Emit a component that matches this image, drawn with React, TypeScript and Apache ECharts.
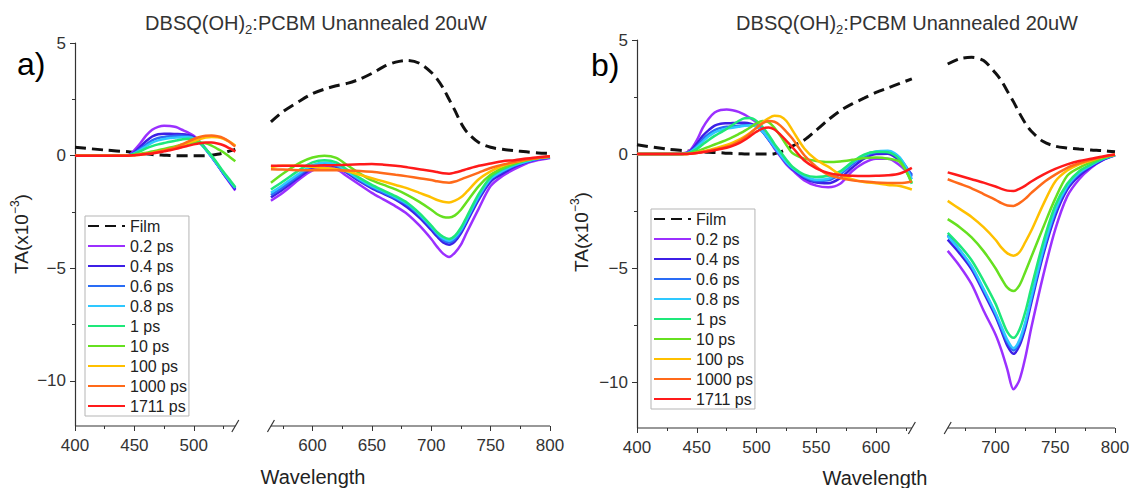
import React, { useEffect, useRef } from "react";
import * as echarts from "echarts";

// ---------- series names / colours ----------
const seriesNames = ["Film", "0.2 ps", "0.4 ps", "0.6 ps", "0.8 ps", "1 ps", "10 ps", "100 ps", "1000 ps", "1711 ps"];
const seriesColors = ["#111111", "#9b30ff", "#3d1fe6", "#2a6cf5", "#2ec8ff", "#1ee87a", "#66e020", "#ffc000", "#ff6a1a", "#ff1a1a"];

// ---------- axis ticks ----------
const aMajorTicks = [400, 450, 500, 600, 650, 700, 750, 800];
const bMajorTicks = [400, 450, 500, 550, 600, 700, 750, 800];
const minorXTicks = [425, 475, 525, 575, 625, 675, 725, 775];
const yMajorTicks = [-10, -5, 0, 5];
const yMinorTicks = [-7.5, -2.5, 2.5];

// ---------- panel a) wavelength grids ----------
const aLeftWl = [400, 425, 445, 450, 455, 460, 465, 470, 475, 480, 485, 490, 495, 500, 505, 510, 515, 520, 525, 530, 535];
const aRightWl = [565, 575, 590, 600, 610, 620, 630, 640, 650, 660, 670, 680, 690, 700, 705, 710, 715, 720, 725, 730, 740, 750, 760, 770, 780, 790, 800];

const aLeftFilm = [0.37, 0.25, 0.17, 0.14, 0.11, 0.08, 0.05, 0.03, 0.02, 0.01, 0, 0, 0, 0, 0, 0, 0.02, 0.06, 0.12, 0.2, 0.28];
const aLeft02 = [0, 0, 0.02, 0.25, 0.55, 0.9, 1.15, 1.28, 1.33, 1.32, 1.27, 1.15, 1.03, 0.88, 0.62, 0.3, -0.05, -0.42, -0.8, -1.18, -1.55];
const aLeft04 = [0, 0, 0.02, 0.15, 0.4, 0.65, 0.85, 0.95, 0.97, 0.97, 0.96, 0.95, 0.92, 0.82, 0.6, 0.3, -0.05, -0.42, -0.8, -1.15, -1.5];
const aLeft06 = [0, 0, 0.01, 0.12, 0.3, 0.5, 0.68, 0.78, 0.83, 0.86, 0.88, 0.88, 0.86, 0.78, 0.58, 0.28, -0.05, -0.4, -0.78, -1.12, -1.45];
const aLeft08 = [0, 0, 0.01, 0.1, 0.25, 0.42, 0.58, 0.68, 0.74, 0.78, 0.8, 0.82, 0.82, 0.76, 0.57, 0.28, -0.05, -0.4, -0.76, -1.1, -1.42];
const aLeft1 = [0, 0, 0.01, 0.08, 0.2, 0.32, 0.42, 0.5, 0.56, 0.62, 0.67, 0.72, 0.75, 0.72, 0.58, 0.3, 0, -0.35, -0.72, -1.05, -1.4];
const aLeft10 = [0, 0, 0, 0.04, 0.08, 0.13, 0.18, 0.24, 0.3, 0.36, 0.42, 0.48, 0.53, 0.57, 0.58, 0.55, 0.45, 0.3, 0.15, -0.05, -0.25];
const aLeft100 = [0, 0, 0, 0.02, 0.05, 0.08, 0.12, 0.17, 0.23, 0.3, 0.38, 0.47, 0.56, 0.65, 0.73, 0.8, 0.83, 0.82, 0.75, 0.62, 0.45];
const aLeft1000 = [0, 0, 0, 0.02, 0.05, 0.08, 0.12, 0.17, 0.23, 0.3, 0.38, 0.5, 0.62, 0.74, 0.83, 0.88, 0.89, 0.86, 0.78, 0.62, 0.4];
const aLeft1711 = [0, 0, 0, 0.02, 0.04, 0.07, 0.1, 0.14, 0.19, 0.24, 0.3, 0.37, 0.44, 0.5, 0.55, 0.58, 0.58, 0.54, 0.46, 0.33, 0.18];

const aRightFilm = [1.5, 1.95, 2.45, 2.75, 2.95, 3.1, 3.22, 3.4, 3.65, 3.95, 4.15, 4.23, 4.1, 3.7, 3.4, 3.0, 2.5, 2.0, 1.45, 1.05, 0.58, 0.37, 0.28, 0.22, 0.17, 0.12, 0.1];
const aRight02 = [-2.0, -1.65, -1.0, -0.65, -0.5, -0.6, -0.95, -1.3, -1.65, -1.95, -2.25, -2.6, -3.1, -3.7, -4.05, -4.35, -4.5, -4.3, -3.95, -3.4, -2.35, -1.35, -0.9, -0.6, -0.35, -0.2, -0.1];
const aRight04 = [-1.85, -1.5, -0.9, -0.55, -0.4, -0.5, -0.8, -1.15, -1.45, -1.7, -1.95, -2.3, -2.75, -3.3, -3.6, -3.85, -3.95, -3.8, -3.45, -2.95, -1.95, -1.15, -0.8, -0.5, -0.3, -0.15, -0.08];
const aRight06 = [-1.75, -1.4, -0.82, -0.48, -0.35, -0.45, -0.75, -1.1, -1.4, -1.65, -1.9, -2.2, -2.65, -3.2, -3.5, -3.75, -3.85, -3.7, -3.35, -2.85, -1.85, -1.05, -0.7, -0.45, -0.28, -0.14, -0.07];
const aRight08 = [-1.65, -1.3, -0.75, -0.42, -0.3, -0.4, -0.72, -1.05, -1.35, -1.6, -1.85, -2.15, -2.6, -3.15, -3.45, -3.68, -3.78, -3.62, -3.28, -2.8, -1.8, -1.02, -0.68, -0.42, -0.26, -0.13, -0.06];
const aRight1 = [-1.5, -1.15, -0.6, -0.3, -0.2, -0.3, -0.65, -1.0, -1.3, -1.55, -1.8, -2.1, -2.55, -3.1, -3.4, -3.6, -3.7, -3.55, -3.2, -2.7, -1.7, -0.95, -0.6, -0.38, -0.22, -0.1, -0.05];
const aRight10 = [-1.2, -0.8, -0.3, -0.08, 0, -0.1, -0.45, -0.8, -1.1, -1.3, -1.5, -1.75, -2.05, -2.4, -2.6, -2.72, -2.75, -2.65, -2.4, -2.05, -1.35, -0.85, -0.55, -0.35, -0.2, -0.1, -0.05];
const aRight100 = [-0.5, -0.45, -0.45, -0.5, -0.55, -0.6, -0.7, -0.85, -1.0, -1.15, -1.3, -1.45, -1.65, -1.85, -1.97, -2.05, -2.08, -2.0, -1.85, -1.6, -1.05, -0.7, -0.45, -0.3, -0.18, -0.1, -0.05];
const aRight1000 = [-0.6, -0.62, -0.65, -0.65, -0.65, -0.65, -0.66, -0.68, -0.72, -0.78, -0.85, -0.92, -1.0, -1.08, -1.14, -1.18, -1.2, -1.15, -1.05, -0.95, -0.75, -0.55, -0.4, -0.28, -0.17, -0.1, -0.05];
const aRight1711 = [-0.45, -0.45, -0.45, -0.45, -0.43, -0.42, -0.4, -0.38, -0.37, -0.4, -0.45, -0.52, -0.6, -0.68, -0.73, -0.78, -0.8, -0.75, -0.68, -0.6, -0.45, -0.35, -0.25, -0.2, -0.13, -0.07, -0.03];

// ---------- panel b) wavelength grids ----------
const bLeftWl = [400, 425, 440, 445, 450, 455, 460, 465, 470, 475, 480, 485, 490, 495, 500, 505, 510, 515, 520, 525, 530, 540, 550, 560, 570, 580, 590, 600, 610, 620, 630];
const bRightWl = [660, 670, 680, 690, 700, 705, 710, 715, 720, 725, 730, 740, 750, 760, 770, 780, 790, 800];

const bLeftFilm = [0.41, 0.22, 0.15, 0.13, 0.12, 0.1, 0.08, 0.07, 0.06, 0.04, 0.03, 0.02, 0.01, 0, 0, 0, 0, 0.02, 0.1, 0.2, 0.35, 0.62, 1.05, 1.5, 1.9, 2.2, 2.45, 2.7, 2.9, 3.1, 3.3];
const bLeft02 = [0, 0, 0.05, 0.2, 0.6, 1.15, 1.55, 1.82, 1.93, 1.95, 1.92, 1.85, 1.73, 1.57, 1.38, 1.05, 0.65, 0.25, -0.1, -0.45, -0.7, -1.15, -1.38, -1.45, -1.3, -0.75, -0.38, -0.2, -0.2, -0.5, -1.0];
const bLeft04 = [0, 0, 0.03, 0.15, 0.45, 0.8, 1.05, 1.25, 1.33, 1.35, 1.36, 1.37, 1.37, 1.33, 1.22, 0.98, 0.65, 0.3, -0.05, -0.4, -0.65, -1.05, -1.25, -1.28, -1.05, -0.6, -0.2, 0, 0.02, -0.3, -0.9];
const bLeft06 = [0, 0, 0.02, 0.12, 0.35, 0.65, 0.88, 1.05, 1.15, 1.2, 1.22, 1.24, 1.27, 1.27, 1.2, 0.98, 0.65, 0.3, -0.05, -0.38, -0.62, -1.0, -1.18, -1.15, -0.88, -0.45, -0.1, 0.08, 0.1, -0.2, -0.95];
const bLeft08 = [0, 0, 0.02, 0.1, 0.3, 0.55, 0.78, 0.95, 1.05, 1.12, 1.16, 1.2, 1.24, 1.26, 1.2, 1.0, 0.68, 0.32, -0.03, -0.35, -0.6, -0.95, -1.12, -1.08, -0.8, -0.38, -0.05, 0.12, 0.15, -0.15, -1.1];
const bLeft1 = [0, 0, 0.02, 0.08, 0.22, 0.42, 0.62, 0.8, 0.95, 1.1, 1.28, 1.45, 1.57, 1.58, 1.45, 1.2, 0.85, 0.45, 0.1, -0.25, -0.55, -0.9, -1.0, -0.95, -0.75, -0.35, -0.02, 0.1, 0.08, -0.25, -1.3];
const bLeft10 = [0, 0, 0.01, 0.04, 0.12, 0.22, 0.32, 0.42, 0.52, 0.62, 0.74, 0.88, 1.02, 1.18, 1.35, 1.45, 1.4, 1.15, 0.8, 0.4, 0.05, -0.2, -0.3, -0.35, -0.32, -0.25, -0.17, -0.15, -0.2, -0.35, -1.25];
const bLeft100 = [0, 0, 0, 0.02, 0.06, 0.12, 0.18, 0.25, 0.32, 0.4, 0.5, 0.62, 0.77, 0.95, 1.15, 1.38, 1.57, 1.68, 1.65, 1.45, 1.05, 0.25, -0.25, -0.55, -0.9, -1.1, -1.22, -1.28, -1.35, -1.4, -1.55];
const bLeft1000 = [0, 0, 0, 0.02, 0.05, 0.1, 0.15, 0.2, 0.26, 0.33, 0.42, 0.55, 0.72, 0.92, 1.15, 1.35, 1.45, 1.42, 1.25, 0.98, 0.68, -0.05, -0.55, -0.9, -1.05, -1.15, -1.2, -1.24, -1.26, -1.27, -1.2];
const bLeft1711 = [0, 0, 0, 0.02, 0.05, 0.08, 0.12, 0.17, 0.22, 0.28, 0.36, 0.47, 0.62, 0.8, 0.98, 1.12, 1.17, 1.08, 0.85, 0.58, 0.3, -0.28, -0.62, -0.82, -0.92, -0.95, -0.96, -0.95, -0.93, -0.85, -0.6];

const bRightFilm = [3.95, 4.18, 4.24, 4.1, 3.55, 3.2, 2.75, 2.3, 1.8, 1.35, 1.0, 0.55, 0.35, 0.27, 0.22, 0.18, 0.15, 0.1];
const bRight02 = [-4.24, -4.9, -5.7, -6.85, -7.9, -8.6, -9.45, -10.3, -9.9, -8.9, -7.6, -5.3, -3.3, -1.85, -1.1, -0.6, -0.25, -0.05];
const bRight04 = [-3.75, -4.35, -5.05, -6.05, -7.1, -7.75, -8.4, -8.75, -8.4, -7.6, -6.5, -4.4, -2.7, -1.55, -0.95, -0.55, -0.25, -0.05];
const bRight06 = [-3.55, -4.2, -4.95, -5.95, -7.0, -7.65, -8.25, -8.6, -8.25, -7.45, -6.35, -4.25, -2.55, -1.45, -0.85, -0.5, -0.22, -0.04];
const bRight08 = [-3.6, -4.2, -4.9, -5.9, -6.95, -7.55, -8.15, -8.5, -8.15, -7.35, -6.25, -4.15, -2.45, -1.4, -0.82, -0.48, -0.2, -0.04];
const bRight1 = [-3.45, -4.0, -4.65, -5.55, -6.55, -7.2, -7.8, -8.05, -7.7, -6.9, -5.85, -3.85, -2.25, -1.3, -0.75, -0.45, -0.2, -0.04];
const bRight10 = [-2.85, -3.2, -3.65, -4.25, -5.0, -5.45, -5.85, -6.0, -5.75, -5.15, -4.5, -3.2, -1.95, -0.95, -0.6, -0.35, -0.15, -0.03];
const bRight100 = [-2.05, -2.4, -2.75, -3.2, -3.75, -4.1, -4.35, -4.45, -4.3, -3.85, -3.35, -2.2, -1.2, -0.72, -0.45, -0.28, -0.12, -0.03];
const bRight1000 = [-1.1, -1.3, -1.5, -1.75, -2.0, -2.15, -2.25, -2.27, -2.15, -1.95, -1.7, -1.25, -0.9, -0.6, -0.4, -0.25, -0.12, -0.03];
const bRight1711 = [-0.8, -0.95, -1.1, -1.25, -1.42, -1.52, -1.6, -1.62, -1.52, -1.38, -1.2, -0.9, -0.65, -0.45, -0.3, -0.2, -0.1, -0.02];

const aLeftSets = [aLeftFilm, aLeft02, aLeft04, aLeft06, aLeft08, aLeft1, aLeft10, aLeft100, aLeft1000, aLeft1711];
const aRightSets = [aRightFilm, aRight02, aRight04, aRight06, aRight08, aRight1, aRight10, aRight100, aRight1000, aRight1711];
const bLeftSets = [bLeftFilm, bLeft02, bLeft04, bLeft06, bLeft08, bLeft1, bLeft10, bLeft100, bLeft1000, bLeft1711];
const bRightSets = [bRightFilm, bRight02, bRight04, bRight06, bRight08, bRight1, bRight10, bRight100, bRight1000, bRight1711];

const FONT = "'Liberation Sans', Arial, Helvetica, sans-serif";
const AXIS_COLOR = "#333333";

function buildSeries(axisIdx: number, lw: number[], rw: number[], lSets: number[][], rSets: number[][]) {
  const gapX = (lw[lw.length - 1] + rw[0]) / 2;
  return seriesNames.map((name, k) => {
    const data: any[] = lw.map((w, i) => [w, lSets[k][i]]);
    data.push([gapX, null]);
    rw.forEach((w, i) => data.push([w, rSets[k][i]]));
    const isFilm = k === 0;
    return {
      type: "line",
      name,
      xAxisIndex: axisIdx,
      yAxisIndex: axisIdx,
      data,
      symbol: "none",
      showSymbol: false,
      smooth: 0.3,
      connectNulls: false,
      color: seriesColors[k],
      z: 2 + k,
      lineStyle: {
        color: seriesColors[k],
        width: isFilm ? 3 : 2.5,
        type: isFilm ? [11, 6] : "solid",
      },
      emphasis: { disabled: true },
    };
  });
}

function xAxes(gridIndex: number, major: number[]) {
  return [
    {
      type: "value",
      gridIndex,
      min: 400,
      max: 800,
      position: "bottom",
      axisLine: { show: false, onZero: false },
      axisTick: { show: true, customValues: major, length: 5, lineStyle: { color: AXIS_COLOR } },
      axisLabel: { customValues: major, margin: 11, fontSize: 17, color: AXIS_COLOR, fontFamily: FONT },
      splitLine: { show: false },
    },
    {
      type: "value",
      gridIndex,
      min: 400,
      max: 800,
      position: "bottom",
      axisLine: { show: false, onZero: false },
      axisTick: { show: true, customValues: minorXTicks, length: 3, lineStyle: { color: AXIS_COLOR } },
      axisLabel: { show: false },
      splitLine: { show: false },
    },
  ];
}

function yAxes(gridIndex: number) {
  return [
    {
      type: "value",
      gridIndex,
      min: -12,
      max: 5,
      position: "left",
      axisLine: { show: true, onZero: false, lineStyle: { color: AXIS_COLOR, width: 1.2 } },
      axisTick: { show: true, customValues: yMajorTicks, length: 5, lineStyle: { color: AXIS_COLOR } },
      axisLabel: {
        customValues: yMajorTicks,
        margin: 9,
        fontSize: 17,
        color: AXIS_COLOR,
        fontFamily: FONT,
        formatter: (v: number) => (v < 0 ? "\u2212" + Math.abs(v) : String(v)),
      },
      splitLine: { show: false },
    },
    {
      type: "value",
      gridIndex,
      min: -12,
      max: 5,
      position: "left",
      axisLine: { show: false, onZero: false },
      axisTick: { show: true, customValues: yMinorTicks, length: 3, lineStyle: { color: AXIS_COLOR } },
      axisLabel: { show: false },
      splitLine: { show: false },
    },
  ];
}

function legendFor(left: number, top: number) {
  return {
    orient: "vertical",
    left,
    top,
    data: seriesNames,
    itemWidth: 37,
    itemHeight: 14,
    itemGap: 4,
    padding: [2, 2, 2, 2],
    borderColor: "#b5b5b5",
    borderWidth: 1,
    backgroundColor: "#ffffff",
    selectedMode: false,
    itemStyle: { opacity: 0 },
    textStyle: { fontSize: 16, lineHeight: 16, color: "#222", fontFamily: FONT },
  };
}

export default function App() {
  const ref = useRef<HTMLDivElement>(null);

  useEffect(() => {
    if (!ref.current) return;
    const chart = echarts.init(ref.current, undefined, { renderer: "svg" });
    const option: any = {
      animation: false,
      backgroundColor: "#ffffff",
      grid: [
        { left: 75, top: 43, width: 475, height: 383, outerBoundsMode: "none" },
        { left: 637, top: 40, width: 478, height: 388, outerBoundsMode: "none" },
      ],
      xAxis: [...xAxes(0, aMajorTicks), ...xAxes(1, bMajorTicks)],
      yAxis: [...yAxes(0), ...yAxes(1)],
      legend: [legendFor(85, 216), legendFor(651, 209)],
      series: [
        ...buildSeries(0, aLeftWl, aRightWl, aLeftSets, aRightSets),
        ...buildSeries(2, bLeftWl, bRightWl, bLeftSets, bRightSets),
      ],
    };
    chart.setOption(option);

    // axis line segments with break marks, computed from the axes' own scales
    const px = (ai: number, x: number, y: number) =>
      chart.convertToPixel({ xAxisIndex: ai, yAxisIndex: ai }, [x, y]) as number[];
    const graphics: any[] = [];
    const segs = [
      { ai: 0, parts: [[aLeftWl[0], aLeftWl[aLeftWl.length - 1]], [aRightWl[0], aRightWl[aRightWl.length - 1]]] },
      { ai: 2, parts: [[bLeftWl[0], bLeftWl[bLeftWl.length - 1]], [bRightWl[0], bRightWl[bRightWl.length - 1]]] },
    ];
    segs.forEach(({ ai, parts }) => {
      parts.forEach(([x0, x1], pi) => {
        const p0 = px(ai, x0, -12);
        const p1 = px(ai, x1, -12);
        graphics.push({
          type: "line",
          shape: { x1: p0[0], y1: p0[1], x2: p1[0], y2: p1[1] },
          style: { stroke: AXIS_COLOR, lineWidth: 1.2 },
          z: 100,
        });
        const bx = pi === 0 ? p1[0] : p0[0];
        graphics.push({
          type: "line",
          shape: { x1: bx - 3.5, y1: p0[1] + 6, x2: bx + 3.5, y2: p0[1] - 6 },
          style: { stroke: AXIS_COLOR, lineWidth: 1.2 },
          z: 100,
        });
      });
    });

    const title = (x: number) => ({
      type: "text",
      x,
      y: 23,
      z: 100,
      style: {
        text: "DBSQ(OH){sub|2}:PCBM Unannealed 20uW",
        fontSize: 20,
        fontFamily: FONT,
        fill: "#333",
        align: "center",
        verticalAlign: "middle",
        lineHeight: 26,
        rich: { sub: { fontSize: 13, fontFamily: FONT, fill: "#333", verticalAlign: "bottom", lineHeight: 26 } },
      },
    });
    const yName = (x: number, y: number) => ({
      type: "text",
      x,
      y,
      rotation: Math.PI / 2,
      z: 100,
      style: {
        text: "TA(x10{sup|\u22123})",
        fontSize: 19,
        fontFamily: FONT,
        fill: "#222",
        align: "center",
        verticalAlign: "middle",
        lineHeight: 24,
        rich: { sup: { fontSize: 12, fontFamily: FONT, fill: "#222", verticalAlign: "top", lineHeight: 12 } },
      },
    });
    const xName = (x: number, y: number) => ({
      type: "text",
      x,
      y,
      z: 100,
      style: { text: "Wavelength", fontSize: 20, fontFamily: FONT, fill: "#222", align: "center", verticalAlign: "middle" },
    });
    const panelLabel = (t: string, x: number, y: number) => ({
      type: "text",
      x,
      y,
      z: 100,
      style: { text: t, fontSize: 32, fontFamily: FONT, fill: "#000", align: "left", verticalAlign: "middle" },
    });
    graphics.push(
      title(316),
      title(907),
      yName(21, 234),
      yName(581, 232),
      xName(313, 477),
      xName(875, 478),
      panelLabel("a)", 17, 64),
      panelLabel("b)", 591, 65)
    );
    chart.setOption({ graphic: graphics });

    return () => chart.dispose();
  }, []);

  return (
    <div
      ref={ref}
      style={{ position: "fixed", left: 0, top: 0, width: 1131, height: 488, background: "#fff" }}
    />
  );
}
